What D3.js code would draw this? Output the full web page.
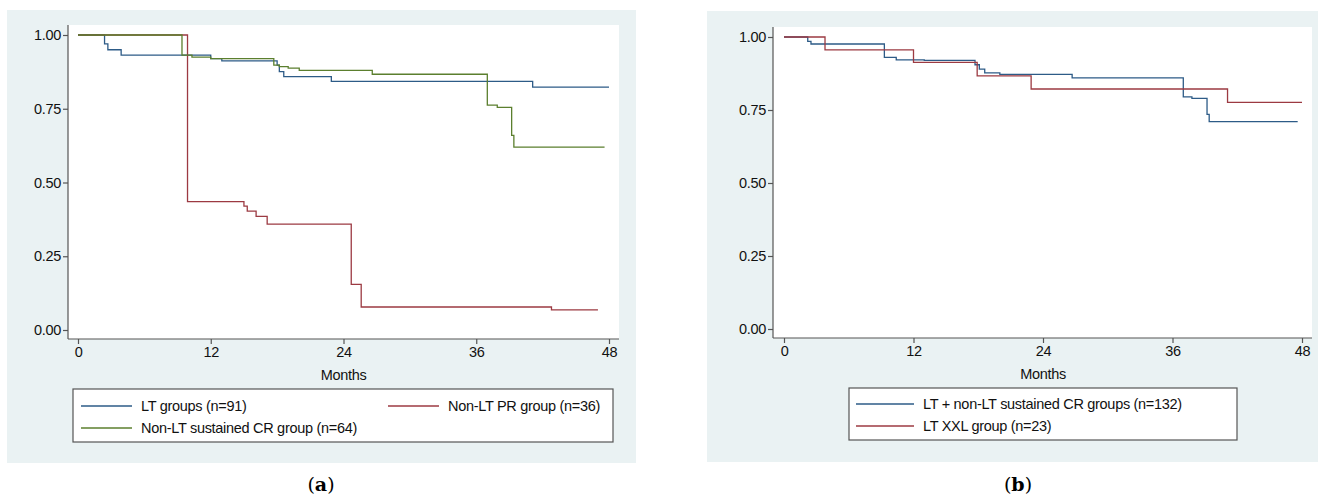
<!DOCTYPE html>
<html>
<head>
<meta charset="utf-8">
<script src="https://cdn.jsdelivr.net/npm/d3@7"></script>
<style>
  body { margin: 0; background: #fff; }
  svg { font-family: "Liberation Sans", Arial, sans-serif; }
</style>
</head>
<body>
<svg id="chart" width="1326" height="498"></svg>
<script>
// step curves as [month, survival] pairs, last point = end of follow-up
const ltGroups = [[0,1],[2.4,0.97],[2.7,0.95],[3.9,0.932],[12,0.92],[13,0.912],[18,0.898],[18.2,0.876],[18.6,0.859],[22.9,0.843],[41.1,0.823],[48,0.823]];
const nonLtCR = [[0,1],[9.4,0.932],[10.3,0.925],[12,0.92],[17.7,0.898],[18.2,0.893],[19,0.888],[20,0.88],[26.6,0.867],[37,0.762],[37.9,0.755],[39.2,0.66],[39.4,0.62],[47.6,0.62]];
const nonLtPR = [[0,1],[9.9,0.435],[15,0.42],[15.3,0.403],[16.1,0.385],[17.1,0.359],[24.7,0.155],[25.6,0.078],[42.8,0.068],[47,0.068]];
const ltCombined = [[0,1],[2.2,0.985],[2.5,0.976],[9.3,0.93],[10.4,0.922],[13,0.92],[17.7,0.905],[18.1,0.89],[18.6,0.877],[20,0.872],[26.7,0.86],[37,0.795],[37.8,0.79],[39.2,0.735],[39.4,0.71],[47.6,0.71]];
const ltXXL = [[0,1],[3.8,0.956],[12,0.913],[17.9,0.867],[22.9,0.822],[41.1,0.776],[48,0.776]];

const xTicks = [0, 12, 24, 36, 48];
const yTicks = [0, 0.25, 0.5, 0.75, 1];

const BLUE = "#2d5b87", RED = "#9c3a42", GREEN = "#5b7f2e";

const svg = d3.select("#chart");

function panel(opt) {
  const g = svg.append("g");
  g.append("rect").attr("x", opt.bg[0]).attr("y", opt.bg[1])
    .attr("width", opt.bg[2] - opt.bg[0]).attr("height", opt.bg[3] - opt.bg[1]).attr("fill", "#eaf2f3");
  g.append("rect").attr("x", opt.plot[0]).attr("y", opt.plot[1])
    .attr("width", opt.plot[2] - opt.plot[0]).attr("height", opt.plot[3] - opt.plot[1]).attr("fill", "#fff");

  const x = d3.scaleLinear().domain([0, 48]).range(opt.xr);
  const y = d3.scaleLinear().domain([0, 1]).range(opt.yr);
  const axisY = opt.plot[3], axisX = opt.plot[0];

  const xAxis = g.append("g").attr("transform", `translate(0,${axisY})`)
    .call(d3.axisBottom(x).tickValues(xTicks).tickSize(5).tickPadding(3));
  xAxis.select(".domain").attr("d", `M${opt.plot[0]},0H${opt.plot[2]}`);
  const yAxis = g.append("g").attr("transform", `translate(${axisX},0)`)
    .call(d3.axisLeft(y).tickValues(yTicks).tickFormat(d3.format(".2f")).tickSize(5).tickPadding(2));
  yAxis.select(".domain").attr("d", `M0,${opt.plot[1]}V${axisY}`);
  g.selectAll(".domain, .tick line").attr("stroke", "#555").attr("stroke-width", 1.2);
  g.selectAll(".tick text").attr("font-size", 14.5).attr("fill", "#111")
    .attr("textLength", null).style("letter-spacing", "-0.3px");

  g.append("text").attr("x", x(24)).attr("y", axisY + 41).attr("text-anchor", "middle")
    .attr("font-size", 14.5).attr("fill", "#111").style("letter-spacing", "-0.3px").text("Months");

  const line = d3.line().curve(d3.curveStepAfter).x(d => x(d[0])).y(d => y(d[1]));
  opt.series.forEach(s => {
    g.append("path").datum(s.data).attr("d", line)
      .attr("fill", "none").attr("stroke", s.color).attr("stroke-width", 1.3);
  });

  const lb = opt.legend;
  g.append("rect").attr("x", lb[0]).attr("y", lb[1]).attr("width", lb[2] - lb[0]).attr("height", lb[3] - lb[1])
    .attr("fill", "#fff").attr("stroke", "#555").attr("stroke-width", 1.2);
  opt.series.forEach(s => {
    const [lx, ly] = s.pos;
    g.append("line").attr("x1", lx).attr("x2", lx + opt.keyLen).attr("y1", ly).attr("y2", ly)
      .attr("stroke", s.color).attr("stroke-width", 1.3);
    g.append("text").attr("x", lx + opt.keyLen + 9).attr("y", ly + 5).attr("font-size", 14.5)
      .attr("fill", "#111").style("letter-spacing", "-0.3px").text(s.label);
  });

  svg.append("text").attr("x", opt.caption).attr("y", 491).attr("text-anchor", "middle")
    .attr("font-family", "DejaVu Serif, serif").attr("font-size", 19)
    .html('(<tspan font-weight="bold">' + opt.letter + '</tspan>)');
}

panel({
  bg: [7, 10, 636, 463], plot: [68, 25, 619, 339],
  xr: [78, 609], yr: [330, 35],
  legend: [73, 389, 613, 442], keyLen: 51,
  series: [
    { data: ltGroups, color: BLUE, label: "LT groups (n=91)", pos: [81, 406] },
    { data: nonLtPR, color: RED, label: "Non-LT PR group (n=36)", pos: [388, 406] },
    { data: nonLtCR, color: GREEN, label: "Non-LT sustained CR group (n=64)", pos: [81, 428] }
  ],
  caption: 321, letter: "a"
});

panel({
  bg: [707, 11, 1318, 462], plot: [773, 27, 1312, 338],
  xr: [784, 1302], yr: [329, 37],
  legend: [849, 388, 1237, 440], keyLen: 58,
  series: [
    { data: ltCombined, color: BLUE, label: "LT + non-LT sustained CR groups (n=132)", pos: [856, 404] },
    { data: ltXXL, color: RED, label: "LT XXL group (n=23)", pos: [856, 426] }
  ],
  caption: 1018, letter: "b"
});
</script>
</body>
</html>
